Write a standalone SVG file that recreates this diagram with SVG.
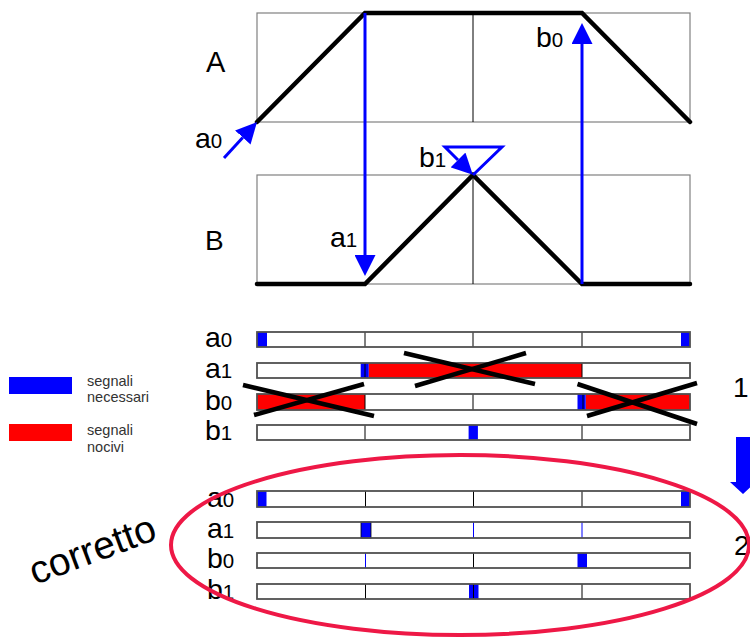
<svg xmlns="http://www.w3.org/2000/svg" width="750" height="637" viewBox="0 0 750 637">
<style>
text{font-family:"Liberation Sans",Arial,sans-serif;fill:#000}
.grid{fill:none;stroke:#808080;stroke-width:1.2}
.div{stroke:#000;stroke-width:1}
.divb{stroke:#0000ff;stroke-width:1}
.trace{fill:none;stroke:#000;stroke-width:4.5;stroke-linejoin:miter;stroke-linecap:round}
.sig{fill:none;stroke:#0000ff;stroke-width:3}
.bar{fill:none;stroke:#505050;stroke-width:1.8}
.blu{fill:#0000ff}
.red{fill:#ff0000}
.x{stroke:#000;stroke-width:4.5}
.L{font-size:28.5px}
.S{font-size:20.5px}
.leg{font-size:14.5px;fill:#333}
</style>
<defs>
<marker id="ah" viewBox="0 0 21 21" markerWidth="21" markerHeight="21" refX="0" refY="10.5" orient="auto" markerUnits="userSpaceOnUse">
<path d="M0,0 L21,10.5 L0,21 z" fill="#0000ff"/>
</marker>
</defs>
<rect width="750" height="637" fill="#fff"/>

<g id="diagram-A">
<rect class="grid" x="257" y="13" width="433" height="109"/>
<line class="div" x1="473" y1="13" x2="473" y2="122"/>
<polyline class="trace" points="257,122 365,13 582,13 690,122"/>
<text x="206" y="72" style="font-size:29px">A</text>
</g>
<g id="diagram-B">
<rect class="grid" x="257" y="175" width="433" height="109"/>
<line class="div" x1="473" y1="175" x2="473" y2="284"/>
<polyline class="trace" points="257,284 365,284 473,175 582,284 690,284"/>
<text x="205" y="250" style="font-size:28px">B</text>
</g>

<g id="connectors">
<line class="sig" x1="365" y1="13" x2="365" y2="255" marker-end="url(#ah)"/>
<line class="sig" x1="582" y1="284" x2="582" y2="44" marker-end="url(#ah)"/>
<line class="sig" x1="224" y1="158" x2="242.8" y2="137.5" marker-end="url(#ah)"/>
<path class="sig" d="M473,175 L502,147 L445,147 L458,160" marker-end="url(#ah)"/>
</g>

<g id="signal-labels">
<text x="195" y="148"><tspan class="L">a</tspan><tspan class="S">0</tspan></text>
<text x="536" y="47"><tspan class="L">b</tspan><tspan class="S">0</tspan></text>
<text x="419" y="167"><tspan class="L">b</tspan><tspan class="S">1</tspan></text>
<text x="330" y="247"><tspan class="L">a</tspan><tspan class="S">1</tspan></text>
</g>

<g id="timing-1">
<g id="t1-a0">
<rect class="blu" x="257" y="332" width="10" height="15"/>
<rect class="blu" x="681" y="332" width="9" height="15"/>
<line class="div" x1="365" y1="332" x2="365" y2="347"/>
<line class="div" x1="473" y1="332" x2="473" y2="347"/>
<line class="div" x1="582" y1="332" x2="582" y2="347"/>
<rect class="bar" x="257" y="332" width="433" height="15"/>
<text x="205" y="347"><tspan class="L">a</tspan><tspan class="S">0</tspan></text>
</g>
<g id="t1-a1">
<rect class="red" x="368.6" y="363" width="213.4" height="15"/>
<rect class="blu" x="360.7" y="363" width="8" height="15"/>
<line class="div" x1="365" y1="363" x2="365" y2="378"/>
<line class="div" x1="582" y1="363" x2="582" y2="378"/>
<rect class="bar" x="257" y="363" width="433" height="15"/>
<text x="205" y="378"><tspan class="L">a</tspan><tspan class="S">1</tspan></text>
</g>
<g id="t1-b0">
<rect class="red" x="257" y="394" width="108" height="16"/>
<rect class="red" x="585.7" y="394" width="104.3" height="16"/>
<rect class="blu" x="577.5" y="394" width="8.2" height="16"/>
<line class="div" x1="365" y1="394" x2="365" y2="410"/>
<line class="div" x1="473" y1="394" x2="473" y2="410"/>
<line class="div" x1="583" y1="394" x2="583" y2="410"/>
<rect class="bar" x="257" y="394" width="433" height="16"/>
<text x="205" y="410"><tspan class="L">b</tspan><tspan class="S">0</tspan></text>
</g>
<g id="t1-b1">
<rect class="blu" x="468.6" y="425" width="9.3" height="15"/>
<line class="div" x1="365" y1="425" x2="365" y2="440"/>
<line class="div" x1="582" y1="425" x2="582" y2="440"/>
<rect class="bar" x="257" y="425" width="433" height="15"/>
<text x="205" y="440"><tspan class="L">b</tspan><tspan class="S">1</tspan></text>
</g>
<g id="crosses">
<line class="x" x1="404" y1="353" x2="535" y2="384"/>
<line class="x" x1="415" y1="386" x2="526" y2="353"/>
<line class="x" x1="243" y1="385" x2="374" y2="416"/>
<line class="x" x1="254" y1="415" x2="364" y2="384"/>
<line class="x" x1="577.5" y1="384" x2="697" y2="424"/>
<line class="x" x1="587" y1="416" x2="697" y2="383"/>
</g>
<text x="733" y="397" style="font-size:28px">1</text>
</g>

<g id="legend">
<rect class="blu" x="9" y="377" width="63" height="17"/>
<text class="leg" x="87" y="386">segnali</text>
<text class="leg" x="87" y="402">necessari</text>
<rect class="red" x="9" y="424" width="63" height="17"/>
<text class="leg" x="87" y="435">segnali</text>
<text class="leg" x="87" y="452">nocivi</text>
</g>

<g id="step-arrow">
<path d="M736,437 L750,437 L750,482 L756,482 L743,494 L730,482 L736,482 z" fill="#0000ff"/>
</g>

<g id="timing-2">
<g id="t2-a0">
<rect class="blu" x="257" y="491" width="9.5" height="16"/>
<rect class="blu" x="681" y="491" width="9" height="16"/>
<line class="div" x1="365.5" y1="491" x2="365.5" y2="507"/>
<line class="div" x1="473.5" y1="491" x2="473.5" y2="507"/>
<line class="div" x1="582" y1="491" x2="582" y2="507"/>
<rect class="bar" x="257" y="491" width="433" height="16"/>
<text x="207" y="507"><tspan class="L">a</tspan><tspan class="S">0</tspan></text>
</g>
<g id="t2-a1">
<rect class="blu" x="361" y="522" width="10" height="16" stroke="#000" stroke-width="0.8"/>
<line class="divb" x1="473.5" y1="522" x2="473.5" y2="538"/>
<line class="divb" x1="582" y1="522" x2="582" y2="538"/>
<rect class="bar" x="257" y="522" width="433" height="16"/>
<text x="207" y="538"><tspan class="L">a</tspan><tspan class="S">1</tspan></text>
</g>
<g id="t2-b0">
<rect class="blu" x="577.5" y="553" width="9.5" height="15"/>
<line class="divb" x1="365.5" y1="553" x2="365.5" y2="568"/>
<line class="div" x1="473.5" y1="553" x2="473.5" y2="568"/>
<rect class="bar" x="257" y="553" width="433" height="15"/>
<text x="207" y="568"><tspan class="L">b</tspan><tspan class="S">0</tspan></text>
</g>
<g id="t2-b1">
<rect class="blu" x="469" y="584" width="9.5" height="15"/>
<line class="div" x1="365.5" y1="584" x2="365.5" y2="599"/>
<line class="div" x1="473.5" y1="584" x2="473.5" y2="599"/>
<line class="div" x1="582" y1="584" x2="582" y2="599"/>
<rect class="bar" x="257" y="584" width="433" height="15"/>
<text x="207" y="599"><tspan class="L">b</tspan><tspan class="S">1</tspan></text>
</g>
<text x="734" y="555" style="font-size:28px">2</text>
</g>

<g id="corretto">
<ellipse cx="460" cy="545" rx="289" ry="90" fill="none" stroke="#ee1846" stroke-width="4"/>
<text x="35" y="585" transform="rotate(-20.5 35 585)" style="font-size:39px">corretto</text>
</g>
</svg>
